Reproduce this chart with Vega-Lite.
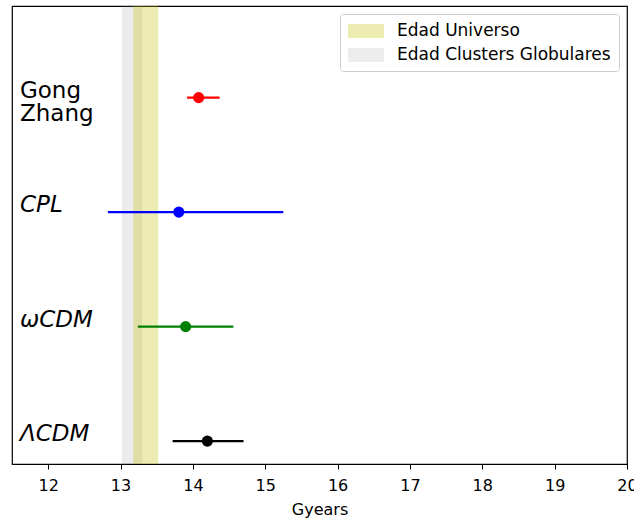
{
  "$schema": "https://vega.github.io/schema/vega-lite/v6.json",
  "width": 615,
  "height": 458,
  "autosize": {"type": "none"},
  "padding": {"left": 12, "top": 6, "right": 7, "bottom": 55},
  "config": {
    "font": "DejaVu Sans",
    "view": {"stroke": "black", "strokeWidth": 1.2},
    "background": "white"
  },
  "datasets": {
    "bands": [
      {"band": "Edad Universo", "start": 13.175, "end": 13.52},
      {"band": "Edad Clusters Globulares", "start": 13.02, "end": 13.295}
    ],
    "models": [
      {"model": "ΛCDM", "pos": 0, "age": 14.2, "lo": 13.72, "hi": 14.7, "style": "italic"},
      {"model": "ωCDM", "pos": 1, "age": 13.9, "lo": 13.24, "hi": 14.56, "style": "italic"},
      {"model": "CPL", "pos": 2, "age": 13.805, "lo": 12.825, "hi": 15.25, "style": "italic"},
      {"model": "Gong\nZhang", "pos": 3, "age": 14.08, "lo": 13.92, "hi": 14.37, "style": "normal"}
    ]
  },
  "layer": [
    {
      "data": {"name": "bands"},
      "mark": {"type": "rect"},
      "encoding": {
        "x": {"field": "start", "type": "quantitative",
              "scale": {"domain": [11.5, 20], "nice": false, "zero": false},
              "axis": {"title": "Gyears", "values": [12,13,14,15,16,17,18,19,20], "format": "d",
                       "labelFontSize": 16, "titleFontSize": 16, "titleFontWeight": "normal",
                       "labelColor": "black", "titleColor": "black", "domainColor": "black",
                       "tickColor": "black", "tickSize": 5, "labelPadding": 8, "titlePadding": 8,
                       "grid": false, "labelFlush": false, "domainWidth": 1.2}},
        "x2": {"field": "end"},
        "fill": {"field": "band", "type": "nominal",
                 "scale": {"domain": ["Edad Universo", "Edad Clusters Globulares"],
                           "range": ["rgba(191,191,0,0.3)", "rgba(128,128,128,0.15)"]},
                 "sort": ["Edad Universo", "Edad Clusters Globulares"],
                 "legend": {"title": null, "orient": "top-right", "offset": 8,
                            "fillColor": "white", "strokeColor": "#cccccc", "cornerRadius": 3,
                            "padding": 8, "labelFontSize": 17, "labelColor": "black", "labelLimit": 400,
                            "symbolType": "M-2,-0.78H2V0.78H-2Z", "symbolSize": 324, "symbolOffset": 9,
                            "symbolStrokeWidth": 0, "labelOffset": 22, "rowPadding": 7}},
        "order": {"field": "band", "sort": "ascending"}
      }
    },
    {
      "data": {"name": "models"},
      "mark": {"type": "rule", "strokeWidth": 2.3},
      "encoding": {
        "x": {"field": "lo", "type": "quantitative"},
        "x2": {"field": "hi"},
        "y": {"field": "pos", "type": "quantitative", "scale": {"domain": [-0.2, 3.8], "nice": false, "zero": false}, "axis": null},
        "color": {"field": "model", "type": "nominal",
                  "scale": {"domain": ["ΛCDM", "ωCDM", "CPL", "Gong\nZhang"], "range": ["#000000", "#008000", "#0000ff", "#ff0000"]},
                  "legend": null}
      }
    },
    {
      "data": {"name": "models"},
      "mark": {"type": "circle", "size": 125, "opacity": 1},
      "encoding": {
        "x": {"field": "age", "type": "quantitative"},
        "y": {"field": "pos", "type": "quantitative"},
        "color": {"field": "model", "type": "nominal", "legend": null}
      }
    },
    {
      "data": {"name": "models"},
      "transform": [{"filter": "datum.style == 'italic'"}],
      "mark": {"type": "text", "align": "left", "baseline": "alphabetic", "fontSize": 23, "fontStyle": "italic", "color": "black"},
      "encoding": {
        "x": {"datum": 11.61, "type": "quantitative"},
        "y": {"field": "pos", "type": "quantitative"},
        "text": {"field": "model"}
      }
    },
    {
      "data": {"name": "models"},
      "transform": [{"filter": "datum.style == 'normal'"}],
      "mark": {"type": "text", "align": "left", "baseline": "alphabetic", "fontSize": 23, "lineBreak": "\n", "lineHeight": 23, "color": "black"},
      "encoding": {
        "x": {"datum": 11.61, "type": "quantitative"},
        "y": {"field": "pos", "type": "quantitative"},
        "text": {"field": "model"}
      }
    }
  ]
}
